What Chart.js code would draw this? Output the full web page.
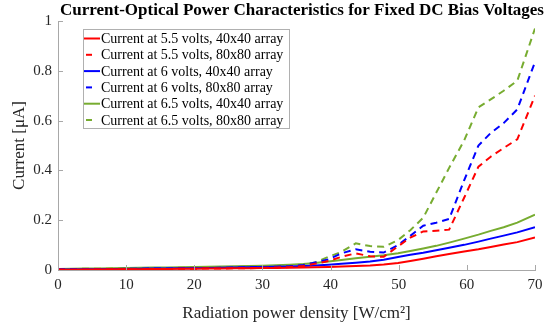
<!DOCTYPE html>
<html>
<head>
<meta charset="utf-8">
<script src="https://cdn.jsdelivr.net/npm/chart.js@4/dist/chart.umd.min.js"></script>
<style>
  html, body { margin: 0; padding: 0; background: #fff; }
  #wrap { width: 554px; height: 328px; }
</style>
</head>
<body>
<div id="wrap"><canvas id="trendChart" width="554" height="328"></canvas></div>
<script>
// DATA
const chartTitle = "Current-Optical Power Characteristics for Fixed DC Bias Voltages";
const xTitle = "Radiation power density [W/cm\u00B2]";
const yTitle = "Current [\u03BCA]";

const power = [0, 2, 4, 6, 8, 10, 12, 14, 16, 18, 20, 22, 24, 26, 28, 30, 32, 34, 36,
    37.7, 39.7, 41.6, 43.7, 45.8, 47.8, 49.9, 51.7, 53.6, 55.5, 57.4, 59.6, 61.7, 63.5, 65.4, 67.4, 70];

const red40 = [0.001, 0.001, 0.002, 0.002, 0.003, 0.003, 0.003, 0.004, 0.004, 0.005, 0.005, 0.006, 0.006, 0.007, 0.007, 0.008, 0.008, 0.009, 0.010,
    0.011, 0.012, 0.014, 0.016, 0.018, 0.022, 0.028, 0.036, 0.045, 0.055, 0.064, 0.074, 0.083, 0.092, 0.102, 0.112, 0.131];
const red80 = [0.002, 0.001, 0.001, 0.002, 0.002, 0.003, 0.002, 0.004, 0.004, 0.005, 0.005, 0.006, 0.006, 0.007, 0.007, 0.009, 0.010, 0.012, 0.016,
    0.025, 0.036, 0.053, 0.067, 0.055, 0.053, 0.095, 0.130, 0.155, 0.158, 0.162, 0.290, 0.415, 0.455, 0.490, 0.525, 0.700];
const blue40 = [0.002, 0.002, 0.003, 0.003, 0.004, 0.004, 0.005, 0.006, 0.006, 0.007, 0.007, 0.008, 0.009, 0.010, 0.011, 0.012, 0.013, 0.014, 0.016,
    0.018, 0.021, 0.025, 0.029, 0.034, 0.041, 0.052, 0.061, 0.069, 0.079, 0.089, 0.101, 0.114, 0.126, 0.138, 0.151, 0.172];
const blue80 = [0.003, 0.003, 0.003, 0.004, 0.004, 0.005, 0.005, 0.006, 0.006, 0.007, 0.008, 0.008, 0.009, 0.010, 0.011, 0.012, 0.013, 0.015, 0.020,
    0.030, 0.043, 0.067, 0.083, 0.073, 0.070, 0.100, 0.137, 0.178, 0.190, 0.205, 0.360, 0.500, 0.550, 0.590, 0.645, 0.835];
const green40 = [0.004, 0.005, 0.006, 0.006, 0.007, 0.008, 0.009, 0.010, 0.010, 0.011, 0.012, 0.013, 0.014, 0.015, 0.016, 0.017, 0.019, 0.021, 0.024,
    0.028, 0.034, 0.040, 0.047, 0.053, 0.059, 0.067, 0.076, 0.086, 0.097, 0.110, 0.126, 0.142, 0.157, 0.172, 0.190, 0.222];
const green80 = [0.004, 0.004, 0.005, 0.005, 0.006, 0.006, 0.007, 0.008, 0.008, 0.009, 0.010, 0.010, 0.011, 0.012, 0.013, 0.014, 0.016, 0.018, 0.022,
    0.030, 0.053, 0.073, 0.107, 0.096, 0.093, 0.120, 0.160, 0.210, 0.310, 0.410, 0.520, 0.653, 0.685, 0.720, 0.760, 0.970];

const seriesNames = [
    "Current at 5.5 volts, 40x40 array",
    "Current at 5.5 volts, 80x80 array",
    "Current at 6 volts, 40x40 array",
    "Current at 6 volts, 80x80 array",
    "Current at 6.5 volts, 40x40 array",
    "Current at 6.5 volts, 80x80 array"
];
const seriesValues = [red40, red80, blue40, blue80, green40, green80];
const seriesColors = ["#ff0000", "#ff0000", "#0000ff", "#0000ff", "#77ac30", "#77ac30"];
const seriesDashed = [false, true, false, true, false, true];

const xTicks = [0, 10, 20, 30, 40, 50, 60, 70];
const yTicks = [0, 0.2, 0.4, 0.6, 0.8, 1];

const FONT = "'Liberation Serif', 'Times New Roman', serif";
const AXIS_COLOR = "#a8a8a8";
const TEXT_COLOR = "#262626";
const DASH = [7, 5];

function pairs(ys) {
    return ys.map((y, i) => ({ x: power[i], y: y }));
}

const datasets = seriesValues.map((ys, i) => ({
    label: seriesNames[i],
    data: pairs(ys),
    borderColor: seriesColors[i],
    borderWidth: 2,
    borderDash: seriesDashed[i] ? DASH : [],
    pointRadius: 0,
    fill: false,
    tension: 0
}));

// title, inward ticks and boxed legend
const extras = {
    id: "extras",
    afterDraw(chart) {
        const c = chart.ctx;
        const a = chart.chartArea;
        const sx = chart.scales.x, sy = chart.scales.y;

        c.save();
        c.fillStyle = "#000";
        c.font = "bold 17px " + FONT;
        c.textAlign = "center";
        c.textBaseline = "middle";
        c.fillText(chartTitle, 302, 11);

        c.strokeStyle = AXIS_COLOR;
        c.lineWidth = 1;
        c.beginPath();
        xTicks.forEach(v => {
            const px = Math.round(sx.getPixelForValue(v)) + 0.5;
            c.moveTo(px, a.bottom);
            c.lineTo(px, a.bottom - 5);
        });
        yTicks.forEach(v => {
            const py = Math.round(sy.getPixelForValue(v)) + 0.5;
            c.moveTo(a.left, py);
            c.lineTo(a.left + 5, py);
        });
        c.stroke();

        // legend
        const bx = 83.5, by = 29.5, bw = 206, bh = 99;
        c.fillStyle = "#fff";
        c.fillRect(bx, by, bw, bh);
        c.strokeStyle = "#b0b0b0";
        c.strokeRect(bx, by, bw, bh);
        c.font = "14px " + FONT;
        c.textAlign = "left";
        c.textBaseline = "middle";
        seriesNames.forEach((name, i) => {
            const ry = 38.5 + i * 16.3;
            c.strokeStyle = seriesColors[i];
            c.lineWidth = 2;
            c.beginPath();
            if (seriesDashed[i]) {
                c.moveTo(86, ry);
                c.lineTo(92, ry);
            } else {
                c.moveTo(84, ry);
                c.lineTo(100, ry);
            }
            c.stroke();
            c.fillStyle = "#000";
            c.fillText(name, 101, ry + 1);
        });
        c.restore();
    }
};

const ctx = document.getElementById("trendChart");

new Chart(ctx, {
    type: "line",
    data: { datasets: datasets },
    options: {
        responsive: false,
        animation: false,
        layout: { padding: { left: 0, right: 19, top: 21, bottom: 0 } },
        plugins: {
            legend: { display: false },
            title: { display: false },
            tooltip: { enabled: false }
        },
        scales: {
            x: {
                type: "linear",
                min: 0,
                max: 70,
                afterFit: s => { s.height = 58; },
                afterBuildTicks: s => { s.ticks = xTicks.map(v => ({ value: v })); },
                grid: { display: true, drawOnChartArea: false, drawTicks: false },
                border: { color: AXIS_COLOR, width: 1 },
                ticks: { color: TEXT_COLOR, font: { family: FONT, size: 15 }, padding: 6, maxRotation: 0 },
                title: { display: true, text: xTitle, color: TEXT_COLOR, font: { family: FONT, size: 17 }, padding: { top: 5 } }
            },
            y: {
                type: "linear",
                min: 0,
                max: 1,
                afterFit: s => { s.width = 58; },
                afterBuildTicks: s => { s.ticks = yTicks.map(v => ({ value: v })); },
                grid: { display: true, drawOnChartArea: false, drawTicks: false },
                border: { color: AXIS_COLOR, width: 1 },
                ticks: {
                    color: TEXT_COLOR,
                    font: { family: FONT, size: 15 },
                    padding: 6,
                    callback: v => String(v)
                },
                title: { display: true, text: yTitle, color: TEXT_COLOR, font: { family: FONT, size: 17 }, padding: { top: 9 } }
            }
        }
    },
    plugins: [extras]
});
</script>
</body>
</html>
